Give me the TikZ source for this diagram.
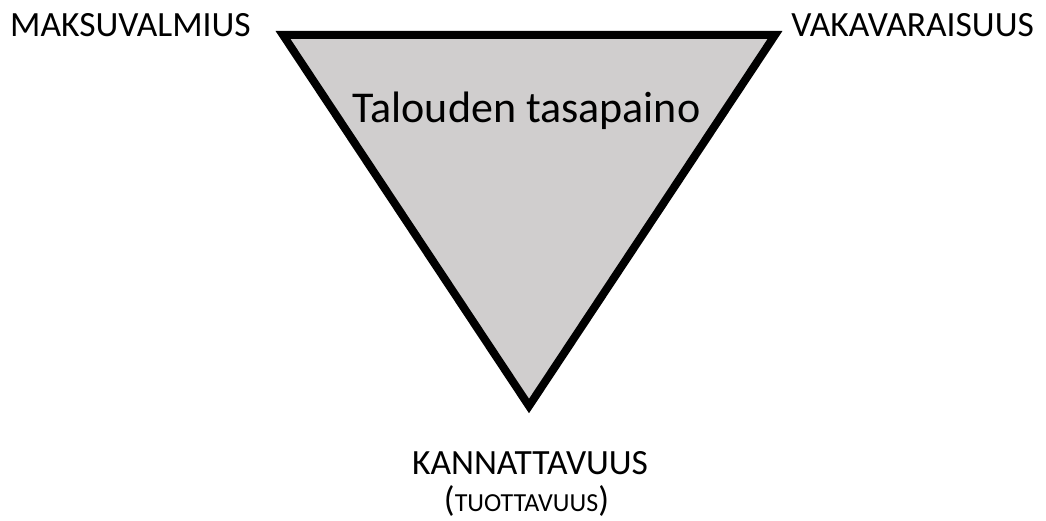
\documentclass[tikz,border=0pt]{standalone}
\usepackage{fontspec}
\setmainfont{Carlito}
\definecolor{trifill}{RGB}{208,206,206}
\begin{document}
\begin{tikzpicture}[x=1pt,y=1pt,
  lbl/.style={inner sep=0pt, font=\fontsize{35.5}{42}\selectfont, text=black},
  tri/.style={draw=black, line width=8pt, line join=miter, fill=trifill}]
\useasboundingbox (0,0) rectangle (1046,520);
\coordinate (tl) at (283,485);
\coordinate (tr) at (775,485);
\coordinate (bt) at (529,114);
\draw[tri] (tl) -- (tr) -- (bt) -- cycle;
\node[lbl, anchor=base west] (maks) at (10,483) {MAKSUVALMIUS};
\node[lbl, anchor=base east] (vaka) at (1034,483) {VAKAVARAISUUS};
\node[lbl, anchor=base] (kann) at (530,46) {KANNATTAVUUS};
\node[lbl, anchor=base] (tuot) at (526.5,9) {(\fontsize{26}{32}\selectfont TUOTTAVUUS\fontsize{35.5}{42}\selectfont)};
\node[lbl, anchor=base, font=\fontsize{44}{50}\selectfont] (tal) at (526.5,397) {Talouden tasapaino};
\end{tikzpicture}
\end{document}
